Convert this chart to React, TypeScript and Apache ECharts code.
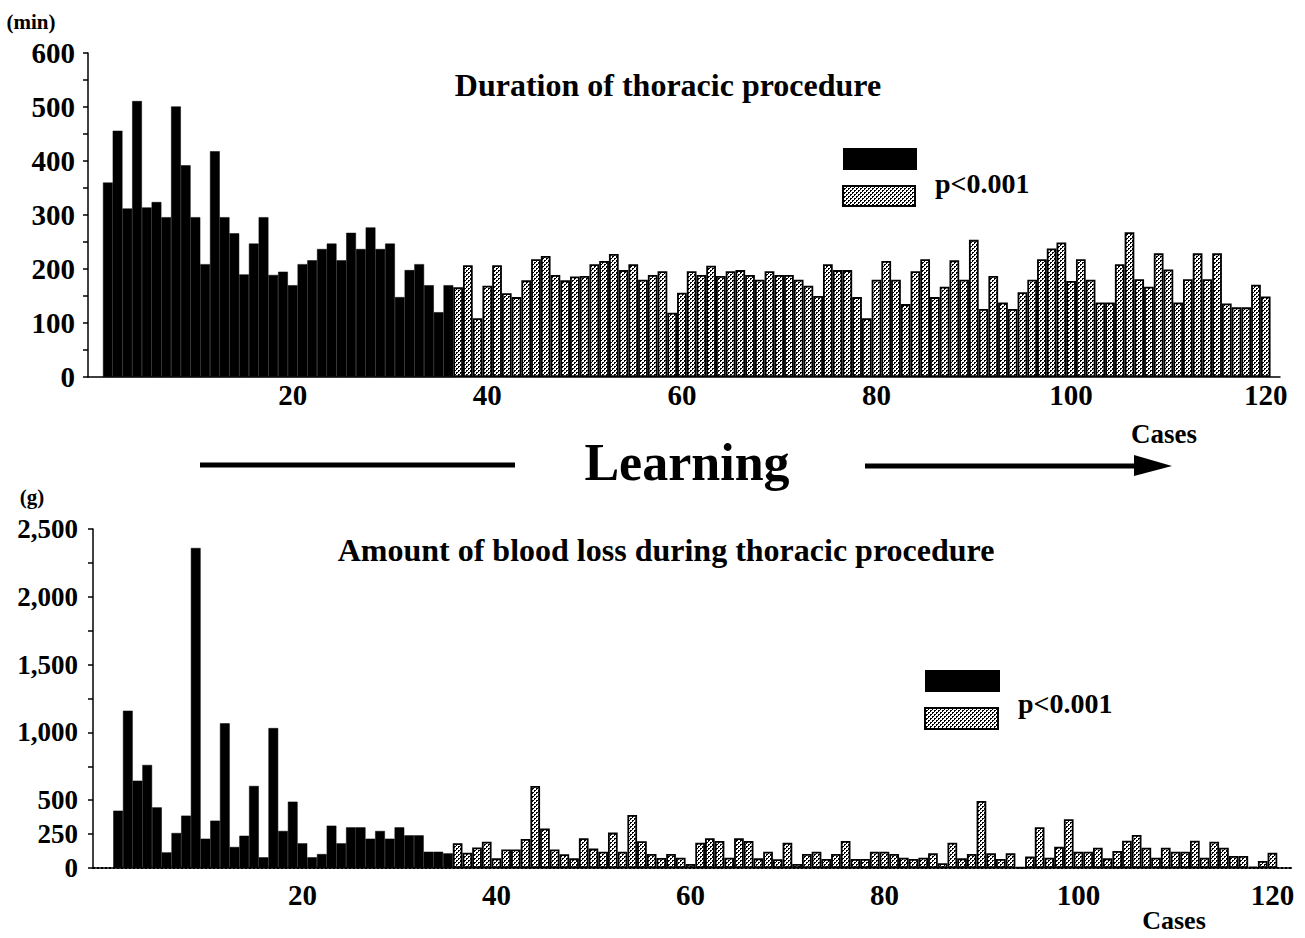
import React, { useEffect, useRef } from "react";
import * as echarts from "echarts";

// Duration of thoracic procedure (min), cases 1-36 (early) and 37-120 (late)
const durationEarly = [
  360, 456, 312, 511, 314, 324, 296, 501, 392, 296, 209, 418, 296, 266, 190, 247, 296, 189,
  195, 170, 209, 216, 237, 247, 216, 267, 237, 277, 237, 247, 148, 198, 209, 170, 120, 170,
];
const durationLate = [
  166, 207, 109, 169, 207, 155, 148, 179, 218, 224, 189, 179, 186, 187, 209, 215, 228, 198,
  209, 180, 189, 196, 119, 156, 196, 189, 206, 187, 196, 198, 189, 180, 196, 189, 189, 180,
  169, 150, 209, 198, 198, 148, 109, 180, 215, 180, 135, 196, 218, 148, 167, 216, 180, 254,
  126, 187, 138, 126, 157, 180, 218, 238, 249, 178, 218, 180, 138, 138, 209, 268, 181, 167,
  229, 199, 138, 181, 229, 181, 229, 136, 129, 129, 171, 149,
];
// Amount of blood loss (g), cases 1-35 (early) and 36-120 (late)
const bloodEarly = [
  423, 1160, 644, 760, 447, 115, 258, 386, 2360, 216, 349, 1067, 155, 238, 605, 79, 1032, 273,
  489, 182, 79, 103, 312, 182, 300, 300, 216, 273, 216, 300, 241, 241, 120, 120, 108,
];
const bloodLate = [
  182, 113, 152, 194, 71, 137, 137, 214, 605, 292, 137, 101, 71, 219, 143, 120, 261, 120,
  391, 197, 103, 74, 103, 76, 30, 187, 219, 199, 76, 219, 199, 71, 120, 65, 187, 30,
  103, 120, 66, 103, 199, 66, 66, 120, 120, 103, 76, 66, 76, 108, 35, 187, 71, 103,
  494, 108, 66, 108, 5, 84, 300, 76, 157, 359, 120, 120, 150, 71, 125, 201, 243, 150,
  76, 150, 120, 120, 201, 76, 194, 150, 88, 88, 10, 52, 113,
];
const caseTicks = [20, 40, 60, 80, 100, 120];
const durationTicks = [0, 100, 200, 300, 400, 500, 600];
const bloodTicks = [0, 250, 500, 1000, 1500, 2000, 2500];

const FONT = '"Liberation Serif", "Times New Roman", serif';

function toPoints(values: number[], start: number) {
  return values.map((v, i) => [start + i, v]);
}

function makePattern() {
  const c = document.createElement("canvas");
  c.width = 4;
  c.height = 4;
  const ctx = c.getContext("2d")!;
  ctx.fillStyle = "#ffffff";
  ctx.fillRect(0, 0, 4, 4);
  ctx.fillStyle = "#000000";
  ctx.fillRect(0, 0, 2, 1);
  ctx.fillRect(0, 1, 1, 1);
  ctx.fillRect(2, 2, 2, 1);
  ctx.fillRect(2, 3, 1, 1);
  return { image: c.toDataURL(), repeat: "repeat", imageWidth: 4, imageHeight: 4 } as any;
}

export default function App() {
  const ref = useRef<HTMLDivElement>(null);
  useEffect(() => {
    if (!ref.current) return;
    const chart = echarts.init(ref.current, undefined, { renderer: "svg" });
    const pattern = makePattern();
    const black = "#000";
    const axisText = { fontFamily: FONT, fontWeight: "bold" as const, fontSize: 29, color: black };
    const line = { color: black, width: 1.5 };

    const option: any = {
      animation: false,
      backgroundColor: "#fff",
      grid: [
        { left: 88, right: 25, top: 53, bottom: 561 },
        { left: 93, right: 12, top: 529, bottom: 70 },
      ],
      xAxis: [
        {
          gridIndex: 0, type: "value", min: -1.04, max: 121.47,
          axisLine: { show: true, onZero: false, lineStyle: line },
          axisTick: { show: false },
          splitLine: { show: false },
          axisLabel: { ...axisText, customValues: caseTicks, margin: 3 },
        },
        {
          gridIndex: 1, type: "value", min: -1.59, max: 122.12,
          axisLine: { show: true, onZero: false, lineStyle: { color: black, width: 2, type: "dotted" } },
          axisTick: { show: false },
          splitLine: { show: false },
          axisLabel: { ...axisText, customValues: caseTicks, margin: 12 },
        },
      ],
      yAxis: [
        {
          gridIndex: 0, type: "value", min: 0, max: 600, interval: 50,
          axisLine: { show: true, onZero: false, lineStyle: line },
          axisTick: { show: true, length: 5, lineStyle: line },
          splitLine: { show: false },
          axisLabel: { ...axisText, customValues: durationTicks, margin: 13 },
        },
        {
          gridIndex: 1, type: "value", min: 0, max: 2500, interval: 250,
          axisLine: { show: true, onZero: false, lineStyle: line },
          axisTick: { show: true, length: 5, lineStyle: line },
          splitLine: { show: false },
          axisLabel: {
            ...axisText, fontSize: 27, customValues: bloodTicks, margin: 15,
            formatter: (v: number) => v.toLocaleString("en-US"),
          },
        },
      ],
      series: [
        {
          type: "bar", xAxisIndex: 0, yAxisIndex: 0, data: toPoints(durationEarly, 1),
          barCategoryGap: "0%", barGap: "-100%",
          itemStyle: { color: black, borderColor: black, borderWidth: 0.5 },
        },
        {
          type: "bar", xAxisIndex: 0, yAxisIndex: 0, data: toPoints(durationLate, durationEarly.length + 1),
          barCategoryGap: "0%", barGap: "-100%",
          itemStyle: { color: pattern, borderColor: black, borderWidth: 1.8 },
        },
        {
          type: "bar", xAxisIndex: 1, yAxisIndex: 1, data: toPoints(bloodEarly, 1),
          barCategoryGap: "0%", barGap: "-100%",
          itemStyle: { color: black, borderColor: black, borderWidth: 0.5 },
        },
        {
          type: "bar", xAxisIndex: 1, yAxisIndex: 1, data: toPoints(bloodLate, bloodEarly.length + 1),
          barCategoryGap: "0%", barGap: "-100%",
          itemStyle: { color: pattern, borderColor: black, borderWidth: 1.8 },
        },
      ],
      graphic: [
        { type: "text", x: 31, y: 22, style: { text: "(min)", font: `bold 21px ${FONT}`, fill: black, align: "center", verticalAlign: "middle" } },
        { type: "text", x: 32, y: 497, style: { text: "(g)", font: `bold 21px ${FONT}`, fill: black, align: "center", verticalAlign: "middle" } },
        { type: "text", x: 668, y: 85, style: { text: "Duration of thoracic procedure", font: `bold 32px ${FONT}`, fill: black, align: "center", verticalAlign: "middle" } },
        { type: "text", x: 666, y: 550, style: { text: "Amount of blood loss during thoracic procedure", font: `bold 32px ${FONT}`, fill: black, align: "center", verticalAlign: "middle" } },
        { type: "text", x: 1164, y: 434, style: { text: "Cases", font: `bold 27px ${FONT}`, fill: black, align: "center", verticalAlign: "middle" } },
        { type: "text", x: 1174, y: 920, style: { text: "Cases", font: `bold 26px ${FONT}`, fill: black, align: "center", verticalAlign: "middle" } },
        // legends
        { type: "rect", shape: { x: 843, y: 148, width: 74, height: 22 }, style: { fill: black } },
        { type: "rect", shape: { x: 843, y: 186, width: 72, height: 20 }, style: { fill: pattern, stroke: black, lineWidth: 2 } },
        { type: "text", x: 935, y: 183, style: { text: "p<0.001", font: `bold 28px ${FONT}`, fill: black, align: "left", verticalAlign: "middle" } },
        { type: "rect", shape: { x: 925, y: 670, width: 75, height: 22 }, style: { fill: black } },
        { type: "rect", shape: { x: 925, y: 708, width: 73, height: 21 }, style: { fill: pattern, stroke: black, lineWidth: 2 } },
        { type: "text", x: 1018, y: 703, style: { text: "p<0.001", font: `bold 28px ${FONT}`, fill: black, align: "left", verticalAlign: "middle" } },
        // Learning arrow
        { type: "line", shape: { x1: 200, y1: 465, x2: 515, y2: 465 }, style: { stroke: black, lineWidth: 5 } },
        { type: "text", x: 687, y: 462, style: { text: "Learning", font: `bold 52px ${FONT}`, fill: black, align: "center", verticalAlign: "middle" } },
        { type: "line", shape: { x1: 865, y1: 466, x2: 1140, y2: 466 }, style: { stroke: black, lineWidth: 5 } },
        { type: "polygon", shape: { points: [[1134, 455], [1172, 466], [1134, 476]] }, style: { fill: black } },
      ],
    };
    chart.setOption(option);
    return () => chart.dispose();
  }, []);
  return (
    <div
      ref={ref}
      style={{ position: "fixed", left: 0, top: 0, width: 1305, height: 938, background: "#fff" }}
    />
  );
}
